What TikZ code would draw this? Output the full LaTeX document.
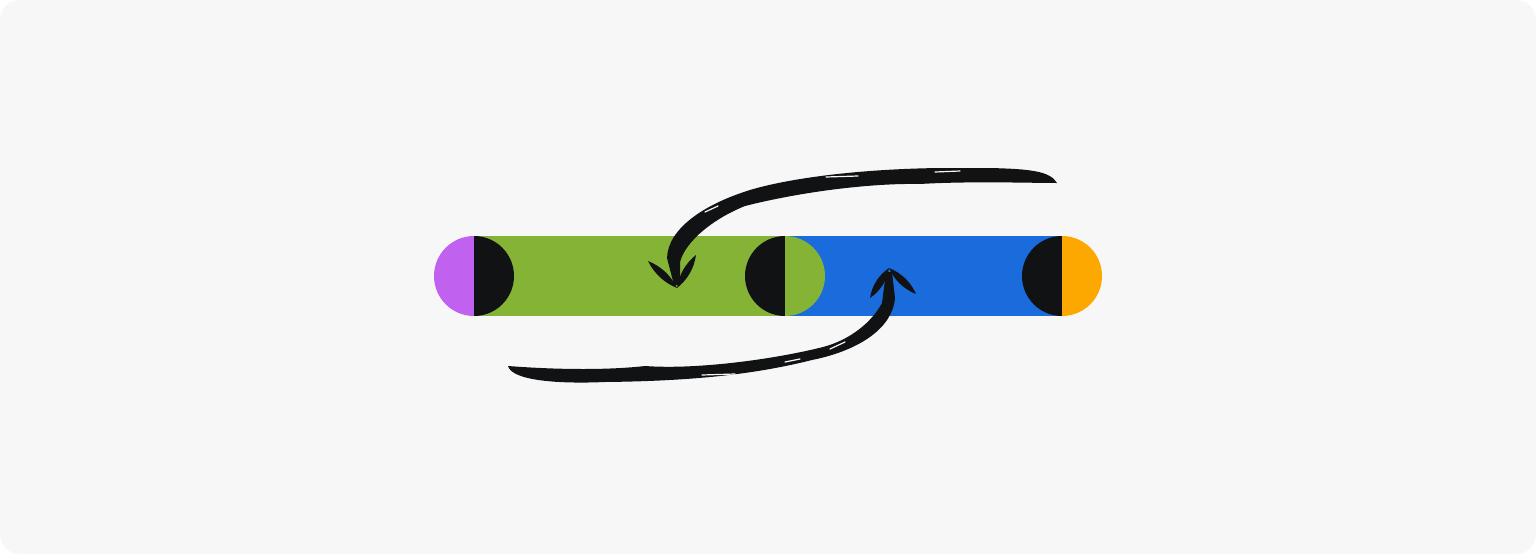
\documentclass[tikz,border=0pt]{standalone}
\definecolor{bgGray}{HTML}{F7F7F7}
\definecolor{inkBlack}{HTML}{111214}
\definecolor{jointPurple}{HTML}{C061F0}
\definecolor{jointOrange}{HTML}{FCA800}
\definecolor{barGreen}{HTML}{84B336}
\definecolor{barBlue}{HTML}{1A6BDC}
\begin{document}
\begin{tikzpicture}[x=1pt, y=-1pt,
	ink/.style = {fill=inkBlack},
	dry/.style = {draw=bgGray, line width=1.2pt, line cap=round}]
	\useasboundingbox (0,0) rectangle (1536,554);
	\fill[white] (0,0) rectangle (1536,554);
	\fill[bgGray, rounded corners=20pt] (0,0) rectangle (1536,554);
	
	\coordinate (first) at (474,276);
	\coordinate (middle) at (785,276);
	\coordinate (last) at (1062,276);
	
	% the two segments
	\fill[barGreen] (474,236) rectangle (785,316);
	\fill[barBlue] (785,236) rectangle (1062,316);
	
	% halves of the joints
	\begin{scope}
		\clip (420,220) rectangle (474,330);
		\fill[jointPurple] (first) circle[radius=40];
	\end{scope}
	\begin{scope}
		\clip (474,220) rectangle (530,330);
		\fill[inkBlack] (first) circle[radius=40];
	\end{scope}
	\begin{scope}
		\clip (730,220) rectangle (785,330);
		\fill[inkBlack] (middle) circle[radius=40];
	\end{scope}
	\begin{scope}
		\clip (785,220) rectangle (840,330);
		\fill[barGreen] (middle) circle[radius=40];
	\end{scope}
	\begin{scope}
		\clip (1000,220) rectangle (1062,330);
		\fill[inkBlack] (last) circle[radius=40];
	\end{scope}
	\begin{scope}
		\clip (1062,220) rectangle (1120,330);
		\fill[jointOrange] (last) circle[radius=40];
	\end{scope}
	
	% upper stroke, back to the green segment
	\coordinate (upTail) at (1057,183);
	\coordinate (upTip) at (677,288);
	\fill[ink] (upTail) .. controls (1050,171) and (1030,169) .. (990,168)
		-- (940,168) .. controls (860,169) and (790,178) .. (750,190)
		.. controls (705,204) and (668,228) .. (667,258) -- (674,285)
		-- (680,285) -- (680,262) .. controls (686,240) and (715,218) .. (745,206)
		.. controls (800,192) and (870,183) .. (920,184)
		.. controls (970,181) and (1030,183) .. (upTail) -- cycle;
	\fill[ink] (upTip) .. controls (670.7,275.3) and (661.1,266.3) .. (648,261)
		.. controls (654.3,273.6) and (663.9,282.6) .. (upTip) -- cycle;
	\fill[ink] (upTip) .. controls (687.6,279.5) and (694,268.5) .. (696,255)
		.. controls (685.4,263.5) and (679,274.5) .. (upTip) -- cycle;
	\draw[dry] (826,177) -- (858,176);
	\draw[dry] (935,172) -- (960,171);
	\draw[dry] (705,212) -- (718,206);
	
	% lower stroke, up to the blue segment
	\coordinate (lowTail) at (508,366);
	\coordinate (lowTip) at (889,268);
	\fill[ink] (lowTail) .. controls (560,370) and (610,370) .. (645,366)
		.. controls (700,370) and (780,358) .. (823,347)
		.. controls (850,340) and (872,322) .. (882,303) -- (886,272)
		-- (892,272) -- (895,298) .. controls (892,332) and (852,352) .. (812,360)
		.. controls (760,373) and (700,381) .. (605,382)
		.. controls (560,384) and (512,381) .. (lowTail) -- cycle;
	\fill[ink] (lowTip) .. controls (886.9,280.7) and (880.5,290.7) .. (870,298)
		.. controls (872.1,285.3) and (878.5,275.3) .. (lowTip) -- cycle;
	\fill[ink] (lowTip) .. controls (894.5,280.3) and (903.5,288.9) .. (916,294)
		.. controls (910.5,281.7) and (901.5,273.1) .. (lowTip) -- cycle;
	\draw[dry] (702,375) -- (735,374);
	\draw[dry] (785,362) -- (800,359);
	\draw[dry] (830,349) -- (845,342);
\end{tikzpicture}
\end{document}
